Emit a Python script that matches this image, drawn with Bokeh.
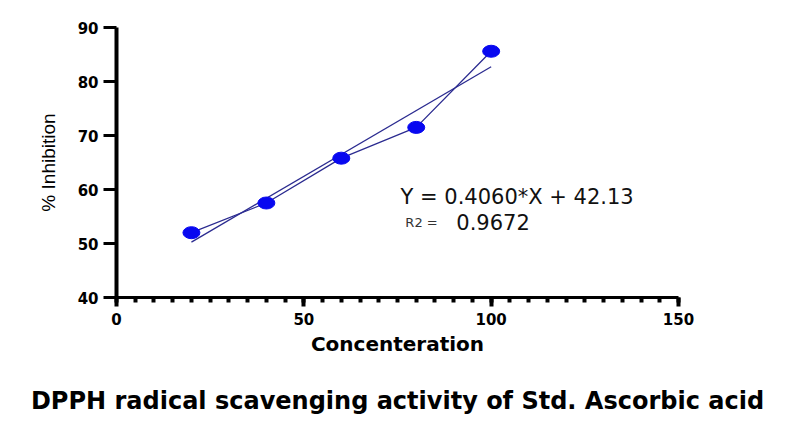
import numpy as np
from bokeh.plotting import figure
from bokeh.models import Label, Title, FixedTicker
from bokeh.embed import file_html
from bokeh.resources import INLINE

# data
conc = [20, 40, 60, 80, 100]
inhibition = [52.0, 57.5, 65.8, 71.5, 85.6]
slope = 0.4060
intercept = 42.13
r2 = 0.9672
x_ticks = [0, 50, 100, 150]
y_ticks = [40, 50, 60, 70, 80, 90]

fit_x = np.array([conc[0], conc[-1]])
fit_y = slope * fit_x + intercept

BOLD = "DejaVu Sans"

p = figure(frame_width=562, frame_height=270,
           x_range=(0, 150), y_range=(40, 90),
           output_backend="svg", toolbar_location=None, tools="",
           min_border_left=116, min_border_right=116,
           min_border_top=27, min_border_bottom=130)
p.outline_line_color = None
p.grid.grid_line_color = None
p.background_fill_color = "white"

for ax in (p.xaxis[0], p.yaxis[0]):
    ax.axis_line_color = "black"
    ax.major_tick_line_color = "black"
    ax.minor_tick_line_color = "black"
    ax.major_tick_in = 0
    ax.minor_tick_in = 0
    ax.major_label_text_font = BOLD
    ax.major_label_text_font_style = "bold"
    ax.major_label_text_font_size = "15px"
    ax.major_label_text_color = "black"
    ax.axis_label_text_color = "black"

p.xaxis.axis_line_width = 3
p.xaxis.major_tick_line_width = 4
p.xaxis.minor_tick_line_width = 4
p.xaxis.ticker = FixedTicker(ticks=x_ticks, minor_ticks=list(range(0, 151, 5)))
p.xaxis.major_tick_out = 9
p.xaxis.minor_tick_out = 5
p.xaxis.major_label_standoff = 6
p.xaxis.axis_label = "Concenteration"
p.xaxis.axis_label_text_font = BOLD
p.xaxis.axis_label_text_font_style = "bold"
p.xaxis.axis_label_text_font_size = "20px"
p.xaxis.axis_label_standoff = 4

p.yaxis.axis_line_width = 4
p.yaxis.major_tick_line_width = 3
p.yaxis.ticker = FixedTicker(ticks=y_ticks, minor_ticks=[])
p.yaxis.major_tick_out = 13
p.yaxis.minor_tick_out = 0
p.yaxis.major_label_standoff = 5
p.yaxis.axis_label = "% Inhibition"
p.yaxis.axis_label_text_font = "Liberation Sans"
p.yaxis.axis_label_text_font_style = "normal"
p.yaxis.axis_label_text_font_size = "19px"
p.yaxis.axis_label_standoff = 16

# fitted line and data
p.line(fit_x, fit_y, line_color="#2b2b90", line_width=1.3)
p.line(conc, inhibition, line_color="#2b2b90", line_width=1.3)
p.ellipse(conc, inhibition, width=17, height=12,
          width_units="screen", height_units="screen",
          fill_color="#0808f0", line_color="#0808f0")

p.add_layout(Label(x=75.8, y=58.7, text="Y = %.4f*X + %.2f" % (slope, intercept),
                   text_font=BOLD, text_font_size="21px", text_color="#111111",
                   text_baseline="middle"))
p.add_layout(Label(x=77.1, y=53.9, text="R2 =", text_font=BOLD,
                   text_font_size="13px", text_color="#333333",
                   text_baseline="middle"))
p.add_layout(Label(x=90.7, y=54.0, text="%.4f" % r2, text_font=BOLD,
                   text_font_size="21px", text_color="#111111",
                   text_baseline="middle"))

p.add_layout(Title(text="DPPH radical scavenging activity of Std. Ascorbic acid",
                   text_font=BOLD, text_font_style="bold", text_font_size="24px",
                   text_color="black", text_line_height=1.0,
                   align="center", offset=0, standoff=53), "below")

open("out.html", "w").write(file_html(p, INLINE))
